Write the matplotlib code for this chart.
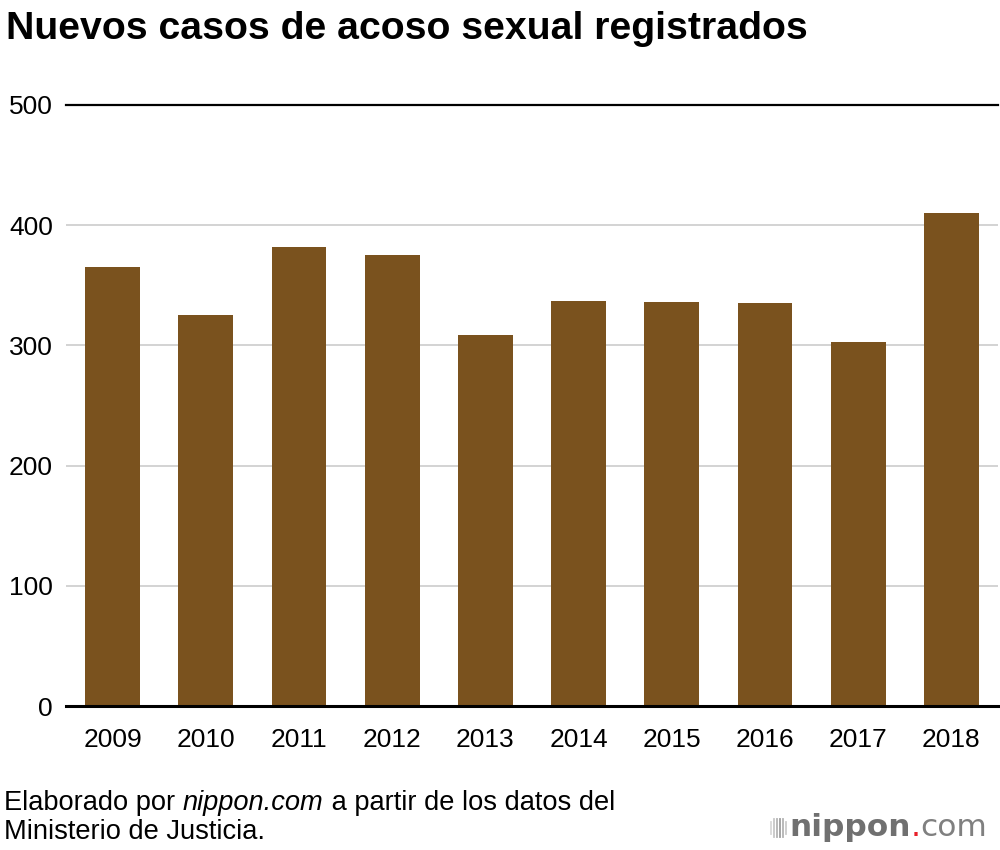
import matplotlib
matplotlib.use("Agg")
import matplotlib.pyplot as plt
from matplotlib.lines import Line2D

years = ["2009", "2010", "2011", "2012", "2013", "2014", "2015", "2016", "2017", "2018"]
cases = [365, 325, 382, 375, 309, 337, 336, 335, 303, 410]
yticks = [0, 100, 200, 300, 400, 500]

plt.rcParams['font.family'] = ['Liberation Sans', 'DejaVu Sans']

fig = plt.figure(figsize=(10, 8.5), dpi=100)
ax = fig.add_axes([0.066, 0.1694, 0.932, 0.7071])

x = list(range(len(years)))
ax.bar(x, cases, width=0.59, color="#7A521E", zorder=3)
ax.set_xlim(-0.5, len(years) - 0.5)
ax.set_ylim(0, 500)
ax.set_yticks(yticks)
ax.set_yticklabels([str(t) for t in yticks], fontsize=19)
ax.set_xticks(x)
ax.set_xticklabels(years, fontsize=19)
ax.tick_params(axis='both', length=0)
ax.tick_params(axis='y', pad=9.5)
ax.tick_params(axis='x', pad=16)
for s in ax.spines.values():
    s.set_visible(False)
for t in yticks[1:-1]:
    ax.axhline(t, color="#CCCCCC", lw=1.2, zorder=1)
ax.axhline(500, color="black", lw=1.6, zorder=4, clip_on=False)
ax.axhline(0, color="black", lw=2.2, zorder=4, clip_on=False)

fig.text(0.006, 0.966, "Nuevos casos de acoso sexual registrados",
         fontsize=28.3, fontweight="bold", ha="left", va="center")

renderer = fig.canvas.get_renderer()

# footer, first line in pieces (italic site name)
fy1 = 0.055
xpos = 0.004
for txt, st in [("Elaborado por ", "normal"), ("nippon.com", "italic"),
                (" a partir de los datos del", "normal")]:
    t = fig.text(xpos, fy1, txt, fontsize=19.6, style=st, ha="left", va="center")
    bb = t.get_window_extent(renderer=renderer)
    xpos += bb.width / fig.bbox.width
fig.text(0.004, 0.021, "Ministerio de Justicia.", fontsize=19.6, ha="left", va="center")

# logo
ly = 0.026
grays = [0.85, 0.78, 0.7, 0.62, 0.7, 0.8]
for i, g in enumerate(grays):
    xx = 0.771 + i * 0.0029
    h = 0.014 if i in (0, 5) else 0.022
    fig.add_artist(Line2D([xx, xx], [ly - h / 2, ly + h / 2],
                          color=str(g), lw=1.3, transform=fig.transFigure))
pieces = [("nippon", "bold", "#707070"), (".", "normal", "#E8202A"), ("com", "normal", "#808080")]
xpos = 0.789
for txt, wt, col in pieces:
    t = fig.text(xpos, ly, txt, fontsize=22.5, fontweight=wt, color=col,
                 ha="left", va="center", family="DejaVu Sans")
    bb = t.get_window_extent(renderer=renderer)
    xpos += bb.width / fig.bbox.width

fig.savefig("out.png", dpi=100, facecolor="white")
